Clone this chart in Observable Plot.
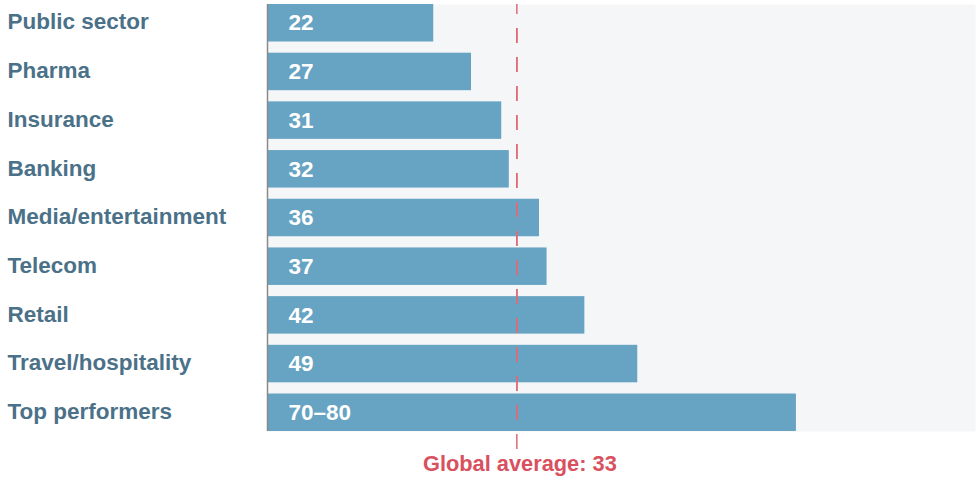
<!DOCTYPE html>
<html>
<head>
<meta charset="utf-8">
<script src="https://cdn.jsdelivr.net/npm/d3@7"></script>
<script src="https://cdn.jsdelivr.net/npm/@observablehq/plot@0.6"></script>
<style>
  html, body { margin: 0; padding: 0; background: #ffffff; }
  #chart { width: 978px; height: 488px; }
</style>
</head>
<body>
<div id="chart"></div>
<script>
const categories = ["Public sector", "Pharma", "Insurance", "Banking", "Media/entertainment", "Telecom", "Retail", "Travel/hospitality", "Top performers"];
const values = [22, 27, 31, 32, 36, 37, 42, 49, 70];
const valueLabels = ["22", "27", "31", "32", "36", "37", "42", "49", "70–80"];
const globalAverage = 33;
const averageLabel = "Global average: 33";
const xMax = 93.7;

const data = categories.map((c, i) => ({category: c, value: values[i], label: valueLabels[i]}));

const font = "'Liberation Sans', Arial, Helvetica, sans-serif";

const chart = Plot.plot({
  width: 978,
  height: 488,
  marginLeft: 267,
  marginRight: 3,
  marginTop: 4,
  marginBottom: 57,
  style: {fontFamily: font, background: "#ffffff", overflow: "visible"},
  x: {domain: [0, xMax], axis: null},
  y: {domain: categories, paddingInner: 0.23, paddingOuter: 0, round: false, axis: null},
  marks: [
    Plot.frame({fill: "#f5f6f8", stroke: null}),
    Plot.barX(data, {x: "value", y: "category", fill: "#67a3c2"}),
    Plot.ruleX([0], {stroke: "#8a8a8a", strokeWidth: 1.5}),
    Plot.text(data, {x: 0, y: "category", text: "label", textAnchor: "start", dx: 21, fill: "#ffffff", fontSize: 22.5, fontWeight: "bold"}),
    Plot.text(data, {x: 0, y: "category", text: "category", textAnchor: "start", dx: -260, dy: -1, fill: "#4b7189", fontSize: 22.5, fontWeight: "bold"}),
    Plot.ruleX([globalAverage], {stroke: "#e06a78", strokeWidth: 1.5, strokeDasharray: "15,14", strokeDashoffset: 5}),
    Plot.ruleX([globalAverage], {stroke: "#e06a78", strokeWidth: 1.5, strokeDasharray: "15,14", strokeDashoffset: 24, dy: 19}),
    Plot.text([globalAverage], {x: d => d, frameAnchor: "bottom", dy: 39, dx: 3, text: () => averageLabel, fill: "#d9505e", fontSize: 21.8, fontWeight: "bold"})
  ]
});
document.getElementById("chart").appendChild(chart);
</script>
</body>
</html>
